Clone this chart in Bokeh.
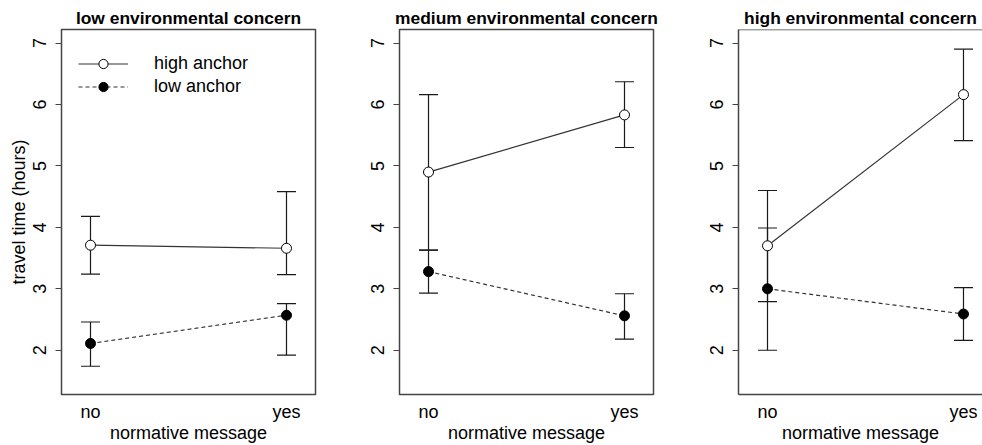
from bokeh.plotting import figure
from bokeh.models import (Range1d, FixedTicker, Whisker, TeeHead, ColumnDataSource,
                          Legend, LegendItem, Span)
from bokeh.layouts import row
from bokeh.embed import file_html
from bokeh.resources import INLINE

# ---- data ----
panel_titles = ["low environmental concern", "medium environmental concern", "high environmental concern"]
x_labels = ["no", "yes"]
x_pos = [1, 2]
y_ticks = [2, 3, 4, 5, 6, 7]
series_labels = ["high anchor", "low anchor"]

high_mean = [[3.71, 3.66], [4.90, 5.83], [3.70, 6.16]]
high_upper = [[4.18, 4.58], [6.16, 6.37], [4.60, 6.90]]
high_lower = [[3.24, 3.23], [3.63, 5.30], [2.79, 5.41]]

low_mean = [[2.11, 2.57], [3.28, 2.56], [3.00, 2.59]]
low_upper = [[2.46, 2.76], [3.63, 2.92], [3.99, 3.02]]
low_lower = [[1.74, 1.92], [2.93, 2.18], [2.00, 2.16]]

FONT = "Liberation Sans"
BOX = "#444444"
LINE = "#333333"
BAR = "#1a1a1a"

# panel geometry: (width, min_border_left, min_border_right, x_end, clipped)
geom = [(346, 61, 31, 2.148, False), (339, 53, 32, 2.148, False), (297, 53, 0, 2.097, True)]


def make_panel(i):
    width, bl, br, x_end, clipped = geom[i]
    p = figure(width=width, height=445, output_backend="svg", toolbar_location=None,
               x_range=Range1d(0.852, x_end), y_range=Range1d(1.28, 7.22),
               min_border_left=bl, min_border_right=br, min_border_top=29, min_border_bottom=49,
               title=panel_titles[i])
    p.grid.visible = False
    p.background_fill_color = "white"
    p.border_fill_color = "white"

    p.title.text_font = FONT
    p.title.text_font_size = "17.4px"
    p.title.text_font_style = "bold"
    p.title.text_color = "black"
    p.title.align = "center"
    p.title.standoff = 3

    if clipped:
        p.outline_line_color = None
    else:
        p.outline_line_color = BOX
        p.outline_line_width = 1.5

    xa = p.xaxis[0]
    xa.ticker = FixedTicker(ticks=x_pos)
    xa.major_label_overrides = {k: v for k, v in zip(x_pos, x_labels)}
    xa.major_tick_line_color = None
    xa.major_tick_out = 0
    xa.major_tick_in = 0
    xa.minor_tick_line_color = None
    xa.minor_tick_out = 0
    xa.major_label_standoff = 7
    xa.major_label_text_font = FONT
    xa.major_label_text_font_size = "18px"
    xa.major_label_text_color = "black"
    xa.axis_label = "normative message"
    xa.axis_label_text_font = FONT
    xa.axis_label_text_font_size = "18px"
    xa.axis_label_text_font_style = "normal"
    xa.axis_label_text_color = "black"
    xa.axis_label_standoff = -2

    ya = p.yaxis[0]
    ya.ticker = FixedTicker(ticks=y_ticks)
    ya.major_tick_out = 6
    ya.major_tick_in = 0
    ya.major_tick_line_color = BOX
    ya.minor_tick_line_color = None
    ya.minor_tick_out = 0
    ya.major_label_orientation = "vertical"
    ya.major_label_standoff = 9
    ya.major_label_text_font = FONT
    ya.major_label_text_font_size = "18px"
    ya.major_label_text_color = "black"
    if i == 0:
        ya.axis_label = "travel time (hours)"
        ya.axis_label_text_font = FONT
        ya.axis_label_text_font_size = "18px"
        ya.axis_label_text_font_style = "normal"
        ya.axis_label_text_color = "black"
        ya.axis_label_standoff = 2

    if clipped:
        xa.axis_line_color = BOX
        xa.axis_line_width = 1.5
        ya.axis_line_color = BOX
        ya.axis_line_width = 1.5
        p.add_layout(Span(location=p.y_range.end, dimension="width",
                          line_color=BOX, line_width=1.5))
    else:
        xa.axis_line_color = None
        ya.axis_line_color = None

    src_h = ColumnDataSource(dict(x=x_pos, mean=high_mean[i], upper=high_upper[i], lower=high_lower[i]))
    src_l = ColumnDataSource(dict(x=x_pos, mean=low_mean[i], upper=low_upper[i], lower=low_lower[i]))

    for src in (src_h, src_l):
        w = Whisker(base="x", upper="upper", lower="lower", source=src,
                    line_color=BAR, line_width=1.2,
                    upper_head=TeeHead(size=19, line_color=BAR, line_width=1.2),
                    lower_head=TeeHead(size=19, line_color=BAR, line_width=1.2))
        p.add_layout(w)

    lh = p.line("x", "mean", source=src_h, line_color=LINE, line_width=1.2)
    ll = p.line("x", "mean", source=src_l, line_color=LINE, line_width=1.2, line_dash="4 3")
    sh = p.scatter("x", "mean", source=src_h, marker="circle", size=10,
                   fill_color="white", line_color="black", line_width=1)
    sl = p.scatter("x", "mean", source=src_l, marker="circle", size=10,
                   fill_color="black", line_color="black", line_width=1)

    if i == 0:
        legend = Legend(items=[LegendItem(label=series_labels[0], renderers=[lh, sh]),
                               LegendItem(label=series_labels[1], renderers=[ll, sl])],
                        location=(17, 296), glyph_width=50, glyph_height=23,
                        label_height=23, label_standoff=26, spacing=0, padding=0, margin=0,
                        border_line_color=None, background_fill_alpha=0,
                        label_text_font=FONT, label_text_font_size="18px",
                        label_text_color="black")
        p.add_layout(legend)
    return p


panels = [make_panel(i) for i in range(3)]
layout = row(*panels, spacing=0)

open("out.html", "w").write(file_html(layout, INLINE))
